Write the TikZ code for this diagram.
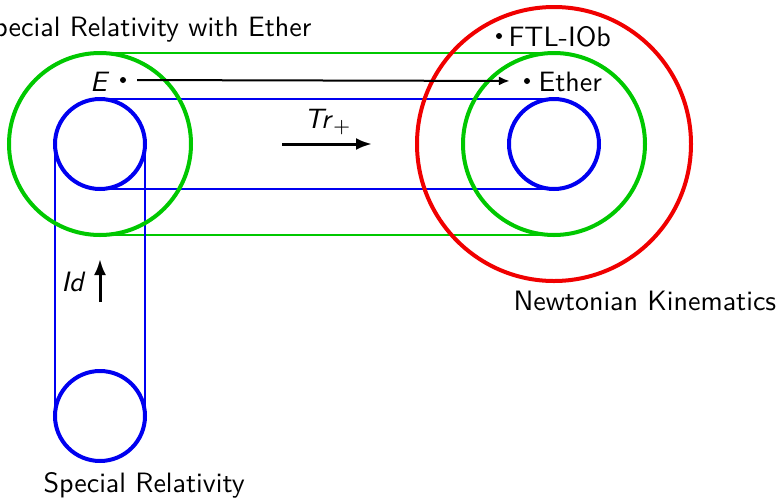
\documentclass[tikz,border=0pt]{standalone}
\usetikzlibrary{arrows.meta}
\definecolor{ggreen}{RGB}{0,200,0}
\definecolor{bblue}{RGB}{0,0,240}
\definecolor{rred}{RGB}{240,0,0}
\begin{document}
\begin{tikzpicture}[x=1pt,y=-1pt,
  font=\sffamily,
  spot/.style={circle, inner sep=0pt, outer sep=0pt},
  ring/.style={line width=4pt},
  band/.style={line width=1.2pt},
  dot/.style={circle, fill=black, inner sep=0pt, minimum size=6pt},
  lbl/.style={inner sep=0pt, scale=2.8, transform shape},
  bigarrow/.style={line width=3pt, -{Latex[length=16pt,width=12pt]}},
  thinarrow/.style={line width=2pt, -{Latex[length=11pt,width=9pt]}}]
\useasboundingbox (0,0) rectangle (782,499);
% circle places
\node[spot, minimum size=182pt] (lg) at (100,144) {};
\node[spot, minimum size=90pt] (lb) at (100,144) {};
\node[spot, minimum size=90pt] (bb) at (100,416) {};
\node[spot, minimum size=274pt] (rr) at (554,144) {};
\node[spot, minimum size=182pt] (rg) at (554,144) {};
\node[spot, minimum size=90pt] (rb) at (554,144) {};
% bands
\draw[band, draw=ggreen] (lg.north) -- (rg.north);
\draw[band, draw=ggreen] (lg.south) -- (rg.south);
\draw[band, draw=bblue] (lb.north) -- (rb.north);
\draw[band, draw=bblue] (lb.south) -- (rb.south);
\draw[band, draw=bblue] (lb.west) -- (bb.west);
\draw[band, draw=bblue] (lb.east) -- (bb.east);
% rings
\draw[ring, draw=ggreen] (lg.center) circle[radius=91];
\draw[ring, draw=bblue] (lb.center) circle[radius=45];
\draw[ring, draw=bblue] (bb.center) circle[radius=45];
\draw[ring, draw=rred] (rr.center) circle[radius=137];
\draw[ring, draw=ggreen] (rg.center) circle[radius=91];
\draw[ring, draw=bblue] (rb.center) circle[radius=45];
% labels
\node[lbl, anchor=base east] (ttl) at (312,36) {Special Relativity with Ether};
\node[lbl, anchor=base west] (nk) at (513,310) {Newtonian Kinematics};
\node[lbl, anchor=base west] (sr) at (43,492) {Special Relativity};
% dots
\node[dot] (ed) at (123,80) {};
\node[lbl, anchor=base east] (el) at (110,91) {\textsl{E}};
\node[dot] (etd) at (527,81) {};
\node[lbl, anchor=base west] (etl) at (538,91) {Ether};
\node[dot] (fd) at (499,36) {};
\node[lbl, anchor=base west] (fl) at (508,46) {FTL-IOb};
\draw[thinarrow, shorten <=11pt, shorten >=14pt] (ed) -- (etd);
% Tr arrow
\coordinate (ta) at (282,144);
\coordinate (tb) at (372,144);
\draw[bigarrow] (ta) -- (tb);
\node[lbl, anchor=base] (trl) at (328,128) {\textsl{Tr}$_+$};
% Id arrow
\coordinate (ia) at (100,302);
\coordinate (ib) at (100,259);
\draw[bigarrow] (ia) -- (ib);
\node[lbl, anchor=base east] (idl) at (86,291) {\textsl{Id}};
\end{tikzpicture}
\end{document}
